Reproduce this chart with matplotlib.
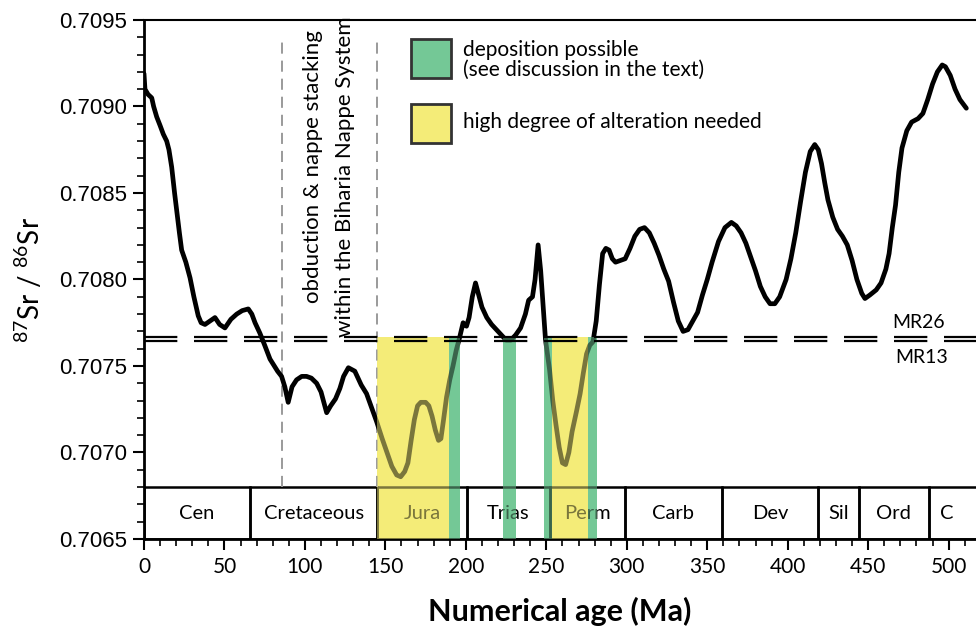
import matplotlib
matplotlib.use('Agg')
import matplotlib.pyplot as plt
from matplotlib.patches import Rectangle
from matplotlib.ticker import MultipleLocator, FormatStrFormatter

plt.rcParams['lines.scale_dashes'] = False
plt.rcParams['mathtext.default'] = 'regular'

# seawater Sr isotope curve (age in Ma, 87Sr/86Sr)
age = [0, 0.6, 2.5, 4.8, 6, 7.9, 10, 12, 14.1, 15.5, 17.2, 19, 20.3, 22, 23.4, 26, 28.6, 31,
       33.7, 35.5, 37.9, 41, 44.1, 47, 50.3, 54, 57.6, 61, 64.8, 67, 69, 72, 75, 78.3, 81, 83,
       85.5, 87.5, 89.6, 92, 94.8, 98, 101, 104, 107.3, 110, 113.5, 116, 119, 121.7, 124, 127,
       131, 135, 138.3, 141, 144.5, 148, 151, 154, 157, 159.5, 162, 164, 166, 168, 170, 172,
       175, 177, 179, 181, 183, 184.5, 186, 188, 190, 192, 194, 196, 198.3, 200.4, 202, 204,
       206, 208, 210, 213, 216, 219, 222, 225, 228, 231, 234, 237, 239, 241.4, 243, 244.9,
       246.5, 248, 249.5, 252, 254, 256, 258, 260, 262, 264, 266, 268.8, 271, 273, 275, 277,
       279, 281, 283, 285, 287, 289, 291, 293, 296, 299, 302, 305, 308, 311, 314, 317, 320,
       323, 326, 329, 332, 335, 338, 341, 344, 347, 350, 353, 357, 361, 365, 368, 371, 374,
       377, 380, 383, 386, 389, 392, 395, 399, 402, 405, 408, 411, 414, 416.8, 419, 421, 423,
       425, 428, 431, 434, 437, 440, 443, 446, 448, 451, 455, 458, 461, 463, 465, 467, 469,
       471, 474, 477, 481, 484, 487, 490, 493, 496, 498, 501, 504, 507, 511]
sr = [0.70919, 0.70910, 0.70907, 0.70905, 0.70900, 0.70894, 0.70889, 0.70884, 0.70880,
      0.70875, 0.70865, 0.70850, 0.70840, 0.70827, 0.70817, 0.70810, 0.70801, 0.70790,
      0.70779, 0.70775, 0.70774, 0.70776, 0.70778, 0.70774, 0.70772, 0.70777, 0.70780,
      0.70782, 0.70783, 0.70780, 0.70775, 0.70769, 0.70762, 0.70754, 0.70750, 0.70747,
      0.70744, 0.70738, 0.70729, 0.70738, 0.70742, 0.70744, 0.70744, 0.70743, 0.70740,
      0.70735, 0.70723, 0.70727, 0.70731, 0.70737, 0.70744, 0.70749, 0.70747, 0.70739,
      0.70734, 0.70727, 0.70718, 0.70708, 0.70700, 0.70692, 0.70687, 0.70686, 0.70689,
      0.70694, 0.70707, 0.70719, 0.70727, 0.70729, 0.70729, 0.70727, 0.70721, 0.70713,
      0.70707, 0.70708, 0.70718, 0.70732, 0.70742, 0.70750, 0.70759, 0.70766, 0.70775,
      0.70773, 0.70778, 0.70790, 0.70798, 0.70791, 0.70784, 0.70778, 0.70774, 0.70771,
      0.70768, 0.70765, 0.70765, 0.70768, 0.70772, 0.70780, 0.70788, 0.70790, 0.70800,
      0.70820, 0.70805, 0.70785, 0.70765, 0.70748, 0.70730, 0.70716, 0.70703, 0.70694,
      0.70693, 0.70700, 0.70712, 0.70724, 0.70734, 0.70746, 0.70757, 0.70762, 0.70764,
      0.70776, 0.70797, 0.70815, 0.70818, 0.70817, 0.70812, 0.70810, 0.70811, 0.70812,
      0.70818, 0.70825, 0.70829, 0.70830, 0.70827, 0.70821, 0.70814, 0.70806, 0.70799,
      0.70787, 0.70776, 0.70770, 0.70771, 0.70776, 0.70781, 0.70791, 0.70800, 0.70810,
      0.70822, 0.70830, 0.70833, 0.70831, 0.70827, 0.70821, 0.70813, 0.70805, 0.70796,
      0.70790, 0.70786, 0.70786, 0.70790, 0.70800, 0.70812, 0.70827, 0.70845, 0.70862,
      0.70874, 0.70878, 0.70875, 0.70867, 0.70856, 0.70846, 0.70836, 0.70829, 0.70825,
      0.70820, 0.70811, 0.70800, 0.70792, 0.70789, 0.70791, 0.70794, 0.70798, 0.70806,
      0.70815, 0.70830, 0.70843, 0.70862, 0.70876, 0.70886, 0.70891, 0.70893, 0.70896,
      0.70904, 0.70913, 0.70920, 0.70924, 0.70923, 0.70918, 0.70910, 0.70904, 0.70899]

# geological periods
period_names = ['Cen', 'Cretaceous', 'Jura', 'Trias', 'Perm', 'Carb', 'Dev',
                'Sil', 'Ord', 'C']
period_edges = [0, 66, 145, 201, 252, 299, 359, 419, 444, 488, 530]

# shaded age windows
green_bands = [(189.5, 196.3), (223, 231), (248.5, 253.4), (275.8, 281.4)]
yellow_bands = [(145, 189.5), (253.4, 275.8)]

mr26 = 0.707668
mr13 = 0.707645
event_lines = [86, 145]

green = '#74c896'
yellow = '#f4ec78'

fig = plt.figure(figsize=(9.76, 6.34), dpi=100)
ax = fig.add_axes([144 / 976, 95 / 634, 832 / 976, 519 / 634])
ax.set_xlim(0, 517)
ax.set_ylim(0.7065, 0.7095)

box_top = 0.7068
band_top = mr26

# opaque bands below, translucent copy on top to tint the curve
for (a, b) in green_bands:
    ax.add_patch(Rectangle((a, 0.7065), b - a, band_top - 0.7065, fc=green, ec='none', zorder=1))
    ax.add_patch(Rectangle((a, 0.7065), b - a, band_top - 0.7065, fc=green, ec='none', alpha=0.5, zorder=4))
for (a, b) in yellow_bands:
    ax.add_patch(Rectangle((a, 0.7065), b - a, band_top - 0.7065, fc=yellow, ec='none', zorder=1))
    ax.add_patch(Rectangle((a, 0.7065), b - a, band_top - 0.7065, fc=yellow, ec='none', alpha=0.5, zorder=4))

# period boxes
for i, name in enumerate(period_names):
    a, b = period_edges[i], period_edges[i + 1]
    ax.add_patch(Rectangle((a, 0.7065), b - a, box_top - 0.7065, fc='none', ec='black', lw=1.8, zorder=2))
    xc = (a + min(b, 517)) / 2 if name != 'C' else 499
    ax.text(xc, 0.70665, name, ha='center', va='center', fontsize=14.5, family='Lato', zorder=2)

for x in event_lines:
    ax.plot([x, x], [box_top, 0.70939], color='#9a9a9a', lw=1.4, ls=(0, (8, 5)), zorder=2)

ax.plot(age, sr, color='black', lw=3.4, zorder=3, solid_joinstyle='round', solid_capstyle='round')

ax.axhline(mr26, color='black', lw=1.6, ls=(0, (24, 12)), zorder=5)
ax.axhline(mr13, color='black', lw=1.6, ls=(0, (24, 12)), zorder=5)
ax.text(481, 0.707749, 'MR26', ha='center', va='center', fontsize=14, family='Lato')
ax.text(483, 0.707552, 'MR13', ha='center', va='center', fontsize=14, family='Lato')

ax.text(105, 0.70865, 'obduction & nappe stacking', rotation=90, ha='center', va='center',
        fontsize=16, family='Lato')
ax.text(125, 0.708593, 'within the Biharia Nappe System', rotation=90, ha='center', va='center',
        fontsize=16, family='Lato')

# legend
ax.add_patch(Rectangle((0.321, 0.888), 0.048, 0.075, transform=ax.transAxes, fc=green, ec='#333333', lw=2, zorder=6))
ax.add_patch(Rectangle((0.321, 0.763), 0.048, 0.075, transform=ax.transAxes, fc=yellow, ec='#333333', lw=2, zorder=6))
ax.text(0.383, 0.942, 'deposition possible', transform=ax.transAxes, va='center', fontsize=15, family='Lato')
ax.text(0.383, 0.904, '(see discussion in the text)', transform=ax.transAxes, va='center', fontsize=15, family='Lato')
ax.text(0.383, 0.803, 'high degree of alteration needed', transform=ax.transAxes, va='center', fontsize=15, family='Lato')

ax.xaxis.set_major_locator(MultipleLocator(50))
ax.xaxis.set_minor_locator(MultipleLocator(10))
ax.yaxis.set_major_locator(MultipleLocator(0.0005))
ax.yaxis.set_minor_locator(MultipleLocator(0.0001))
ax.yaxis.set_major_formatter(FormatStrFormatter('%.4f'))
ax.tick_params(which='major', direction='out', length=8, width=1.5)
ax.tick_params(which='minor', direction='out', length=5, width=1.2)
ax.tick_params(axis='x', labelsize=15, pad=5)
ax.tick_params(axis='y', labelsize=16, pad=4)
for lab in ax.get_xticklabels():
    lab.set_family('Lato')
for lab in ax.get_yticklabels():
    lab.set_family('Liberation Sans')

ax.spines['right'].set_visible(False)
ax.spines['left'].set_linewidth(2)
ax.spines['bottom'].set_linewidth(2)
ax.spines['top'].set_linewidth(1.5)

ax.set_xlabel('Numerical age (Ma)', fontsize=22, fontweight='bold', family='Lato', labelpad=14)
ax.set_ylabel('$^{87}$Sr / $^{86}$Sr', fontsize=20, family='Lato', labelpad=10)

fig.savefig('out.png', dpi=100)
